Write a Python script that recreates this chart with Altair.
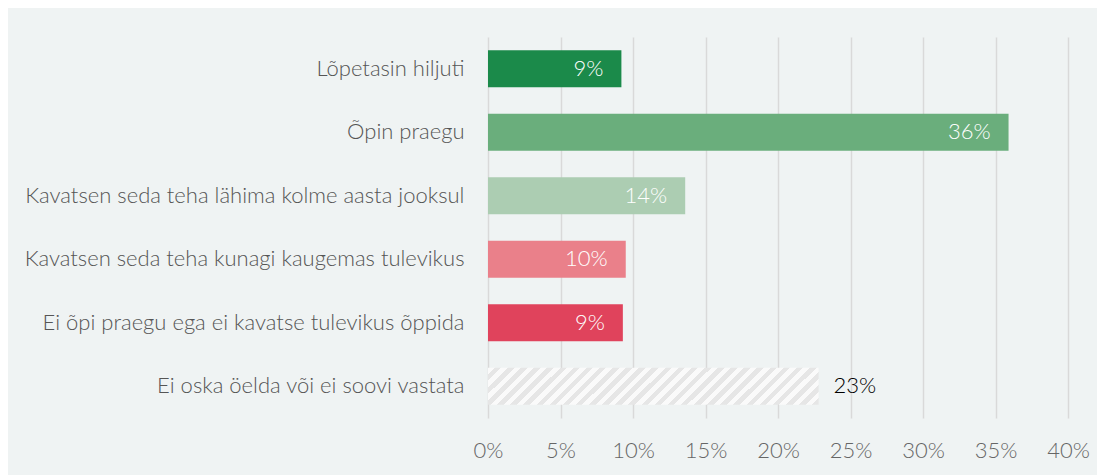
import altair as alt
import pandas as pd

categories = [
    "Lõpetasin hiljuti",
    "Õpin praegu",
    "Kavatsen seda teha lähima kolme aasta jooksul",
    "Kavatsen seda teha kunagi kaugemas tulevikus",
    "Ei õpi praegu ega ei kavatse tulevikus õppida",
    "Ei oska öelda või ei soovi vastata",
]
values = [9.2, 35.9, 13.6, 9.5, 9.3, 22.8]
labels = ["9%", "36%", "14%", "10%", "9%", "23%"]
colors = ["#1b8a4a", "#6aae7c", "#accdb2", "#ea808a", "#e0435c", "#hatch"]
x_ticks = [0, 5, 10, 15, 20, 25, 30, 35, 40]

df = pd.DataFrame({"cat": categories, "val": values, "lab": labels, "col": colors})

W_PLOT, H_PLOT = 580, 381
FONT = "Lato"
FS = 22
FW = 300

# hatch pattern for the last bar (diagonal stripes)
bw = 22.8 / 40 * W_PLOT
bh = 37.0
r = bh / bw
a = (bw + bh) / (bw * (1 + r * r))
n = 28
stops = []
for k in range(n):
    o0 = k / n
    o1 = (k + 0.5) / n
    o2 = (k + 1) / n
    stops += [
        {"offset": o0, "color": "#fafafa"},
        {"offset": o1, "color": "#fafafa"},
        {"offset": o1, "color": "#e6e6e6"},
        {"offset": o2, "color": "#e6e6e6"},
    ]
hatch = {"gradient": "linear", "x1": 0, "y1": 0, "x2": a, "y2": a * r, "stops": stops}

y_enc = alt.Y(
    "cat:N",
    sort=categories,
    title=None,
    scale=alt.Scale(paddingInner=0.42, paddingOuter=0.21),
    axis=alt.Axis(
        labelFont=FONT, labelFontSize=FS, labelFontWeight=FW, labelColor="#555555",
        labelPadding=24, ticks=False, domain=False, labelLimit=600,
    ),
)
x_enc = alt.X(
    "val:Q",
    title=None,
    scale=alt.Scale(domain=[0, 40], nice=False),
    axis=alt.Axis(
        values=x_ticks, labelExpr="datum.value + '%'",
        labelFont=FONT, labelFontSize=FS, labelFontWeight=FW, labelColor="#666666",
        labelPadding=22, labelFlush=False, labelOverlap=False,
        ticks=False, domain=False,
        grid=True, gridColor="#d9d9d9", gridWidth=1.5,
    ),
)

base = alt.Chart(df)

bars = base.transform_filter(alt.datum.col != "#hatch").mark_bar().encode(
    x=x_enc, y=y_enc,
    color=alt.Color("col:N", scale=None),
)
hatched = base.transform_filter(alt.datum.col == "#hatch").mark_bar(fill=hatch).encode(
    x="val:Q", y=alt.Y("cat:N", sort=categories),
)
txt_in = base.transform_filter(alt.datum.col != "#hatch").mark_text(
    align="right", baseline="middle", dx=-18, font=FONT, fontSize=FS, fontWeight=FW,
    color="white"
).encode(x="val:Q", y=alt.Y("cat:N", sort=categories), text="lab:N")
txt_out = base.transform_filter(alt.datum.col == "#hatch").mark_text(
    align="left", baseline="middle", dx=15, font=FONT, fontSize=FS, fontWeight=FW,
    color="#000000"
).encode(x="val:Q", y=alt.Y("cat:N", sort=categories), text="lab:N")

chart = alt.layer(bars, hatched, txt_in, txt_out).properties(
    width=W_PLOT, height=H_PLOT,
    autosize=alt.AutoSizeParams(type="none"),
    padding={"left": 480, "top": 29, "right": 29, "bottom": 57},
    background="#eff3f3",
).configure_view(stroke=None)

chart.save("out.html", embed_options={"renderer": "svg", "actions": False})
